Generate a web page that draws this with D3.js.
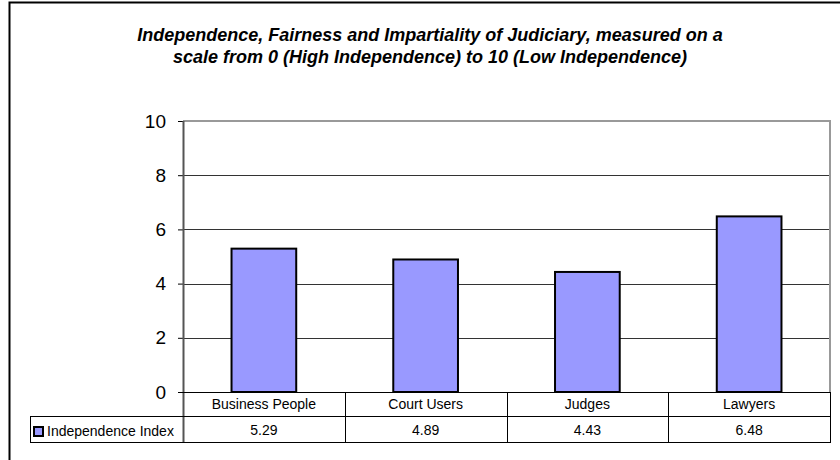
<!DOCTYPE html>
<html>
<head>
<meta charset="utf-8">
<script src="https://cdn.jsdelivr.net/npm/d3@7"></script>
<style>
  html, body { margin: 0; padding: 0; background: #fff; }
  svg { display: block; font-family: "Liberation Sans", Arial, sans-serif; }
</style>
</head>
<body>
<svg id="chart" width="840" height="460"></svg>
<script>
const titleLines = [
  "Independence, Fairness and Impartiality of Judiciary, measured on a",
  "scale from 0 (High Independence) to 10 (Low Independence)"
];
const categories = ["Business People", "Court Users", "Judges", "Lawyers"];
const seriesName = "Independence Index";
const values = [5.29, 4.89, 4.43, 6.48];
const valueLabels = ["5.29", "4.89", "4.43", "6.48"];
const yTicks = [0, 2, 4, 6, 8, 10];

const svg = d3.select("#chart");
const W = 840, H = 460;
const plot = { left: 183, right: 830, top: 121, bottom: 392 };
const table = { left: 30, row1: 416, bottom: 442 };

// outer chart border (cropped at right/bottom)
svg.append("path")
  .attr("d", `M9.5,${H + 2} L9.5,2.5 L${W + 2},2.5`)
  .attr("fill", "none").attr("stroke", "#000").attr("stroke-width", 2);

// title
const title = svg.append("text")
  .attr("x", 430).attr("text-anchor", "middle")
  .attr("font-size", 18).attr("font-weight", "bold").attr("font-style", "italic");
titleLines.forEach((t, i) => {
  title.append("tspan").attr("x", 430).attr("y", 41 + i * 22).text(t);
});

const x = d3.scaleBand().domain(categories).range([plot.left, plot.right]).paddingInner(0).paddingOuter(0);
const y = d3.scaleLinear().domain([0, 10]).range([plot.bottom, plot.top]);

// gridlines
svg.append("g").selectAll("line").data(yTicks.filter(d => d > 0 && d < 10)).join("line")
  .attr("x1", plot.left).attr("x2", plot.right)
  .attr("y1", d => Math.round(y(d)) + 0.5).attr("y2", d => Math.round(y(d)) + 0.5)
  .attr("stroke", "#333").attr("stroke-width", 1);

// plot area border top/right (gray)
svg.append("path")
  .attr("d", `M${plot.left},${plot.top} L${plot.right},${plot.top} L${plot.right},${plot.bottom}`)
  .attr("fill", "none").attr("stroke", "#999").attr("stroke-width", 2);

// bars
const bw = x.bandwidth() * 0.4;
svg.append("g").selectAll("rect").data(values).join("rect")
  .attr("x", (d, i) => x(categories[i]) + (x.bandwidth() - bw) / 2)
  .attr("width", bw)
  .attr("y", d => y(d))
  .attr("height", d => y(0) - y(d))
  .attr("fill", "#9999FF").attr("stroke", "#000").attr("stroke-width", 2);

// y axis
const yAxis = d3.axisLeft(y).tickValues(yTicks).tickSize(5).tickPadding(12).tickFormat(d3.format("d"));
const gy = svg.append("g").attr("transform", `translate(${plot.left},0)`).call(yAxis);
gy.select(".domain").remove();
gy.selectAll(".tick line").attr("stroke", "#000");
gy.selectAll(".tick text").attr("font-size", 19).attr("fill", "#000")
  .attr("font-family", "Liberation Sans, Arial, sans-serif");

// axis line (extends through table)
svg.append("line").attr("x1", plot.left + 0.5).attr("x2", plot.left + 0.5)
  .attr("y1", plot.top).attr("y2", table.bottom)
  .attr("stroke", "#555").attr("stroke-width", 2);

// zero line
svg.append("line").attr("x1", plot.left - 5).attr("x2", plot.right)
  .attr("y1", plot.bottom + 0.5).attr("y2", plot.bottom + 0.5)
  .attr("stroke", "#000").attr("stroke-width", 1);

// data table
const tg = svg.append("g").attr("stroke", "#000").attr("stroke-width", 1);
tg.append("line").attr("x1", table.left).attr("x2", plot.right).attr("y1", table.row1 + 0.5).attr("y2", table.row1 + 0.5);
tg.append("line").attr("x1", table.left).attr("x2", plot.right + 1).attr("y1", table.bottom + 0.5).attr("y2", table.bottom + 0.5);
tg.append("line").attr("x1", table.left + 0.5).attr("x2", table.left + 0.5).attr("y1", table.row1).attr("y2", table.bottom);
tg.selectAll("line.col").data(categories.slice(1)).join("line").attr("class", "col")
  .attr("x1", d => Math.round(x(d)) + 0.5).attr("x2", d => Math.round(x(d)) + 0.5)
  .attr("y1", plot.bottom).attr("y2", table.bottom);
tg.append("line").attr("x1", plot.right + 0.5).attr("x2", plot.right + 0.5).attr("y1", plot.bottom).attr("y2", table.bottom + 1);

svg.append("g").selectAll("text").data(categories).join("text")
  .attr("x", d => x(d) + x.bandwidth() / 2).attr("y", 409)
  .attr("text-anchor", "middle").attr("font-size", 14).text(d => d);
svg.append("g").selectAll("text").data(valueLabels).join("text")
  .attr("x", (d, i) => x(categories[i]) + x.bandwidth() / 2).attr("y", 435)
  .attr("text-anchor", "middle").attr("font-size", 14).text(d => d);

// legend key + series name
svg.append("rect").attr("x", 34).attr("y", 427).attr("width", 9).attr("height", 9)
  .attr("fill", "#9999FF").attr("stroke", "#000").attr("stroke-width", 2);
svg.append("text").attr("x", 47).attr("y", 436).attr("font-size", 14).text(seriesName);
</script>
</body>
</html>
